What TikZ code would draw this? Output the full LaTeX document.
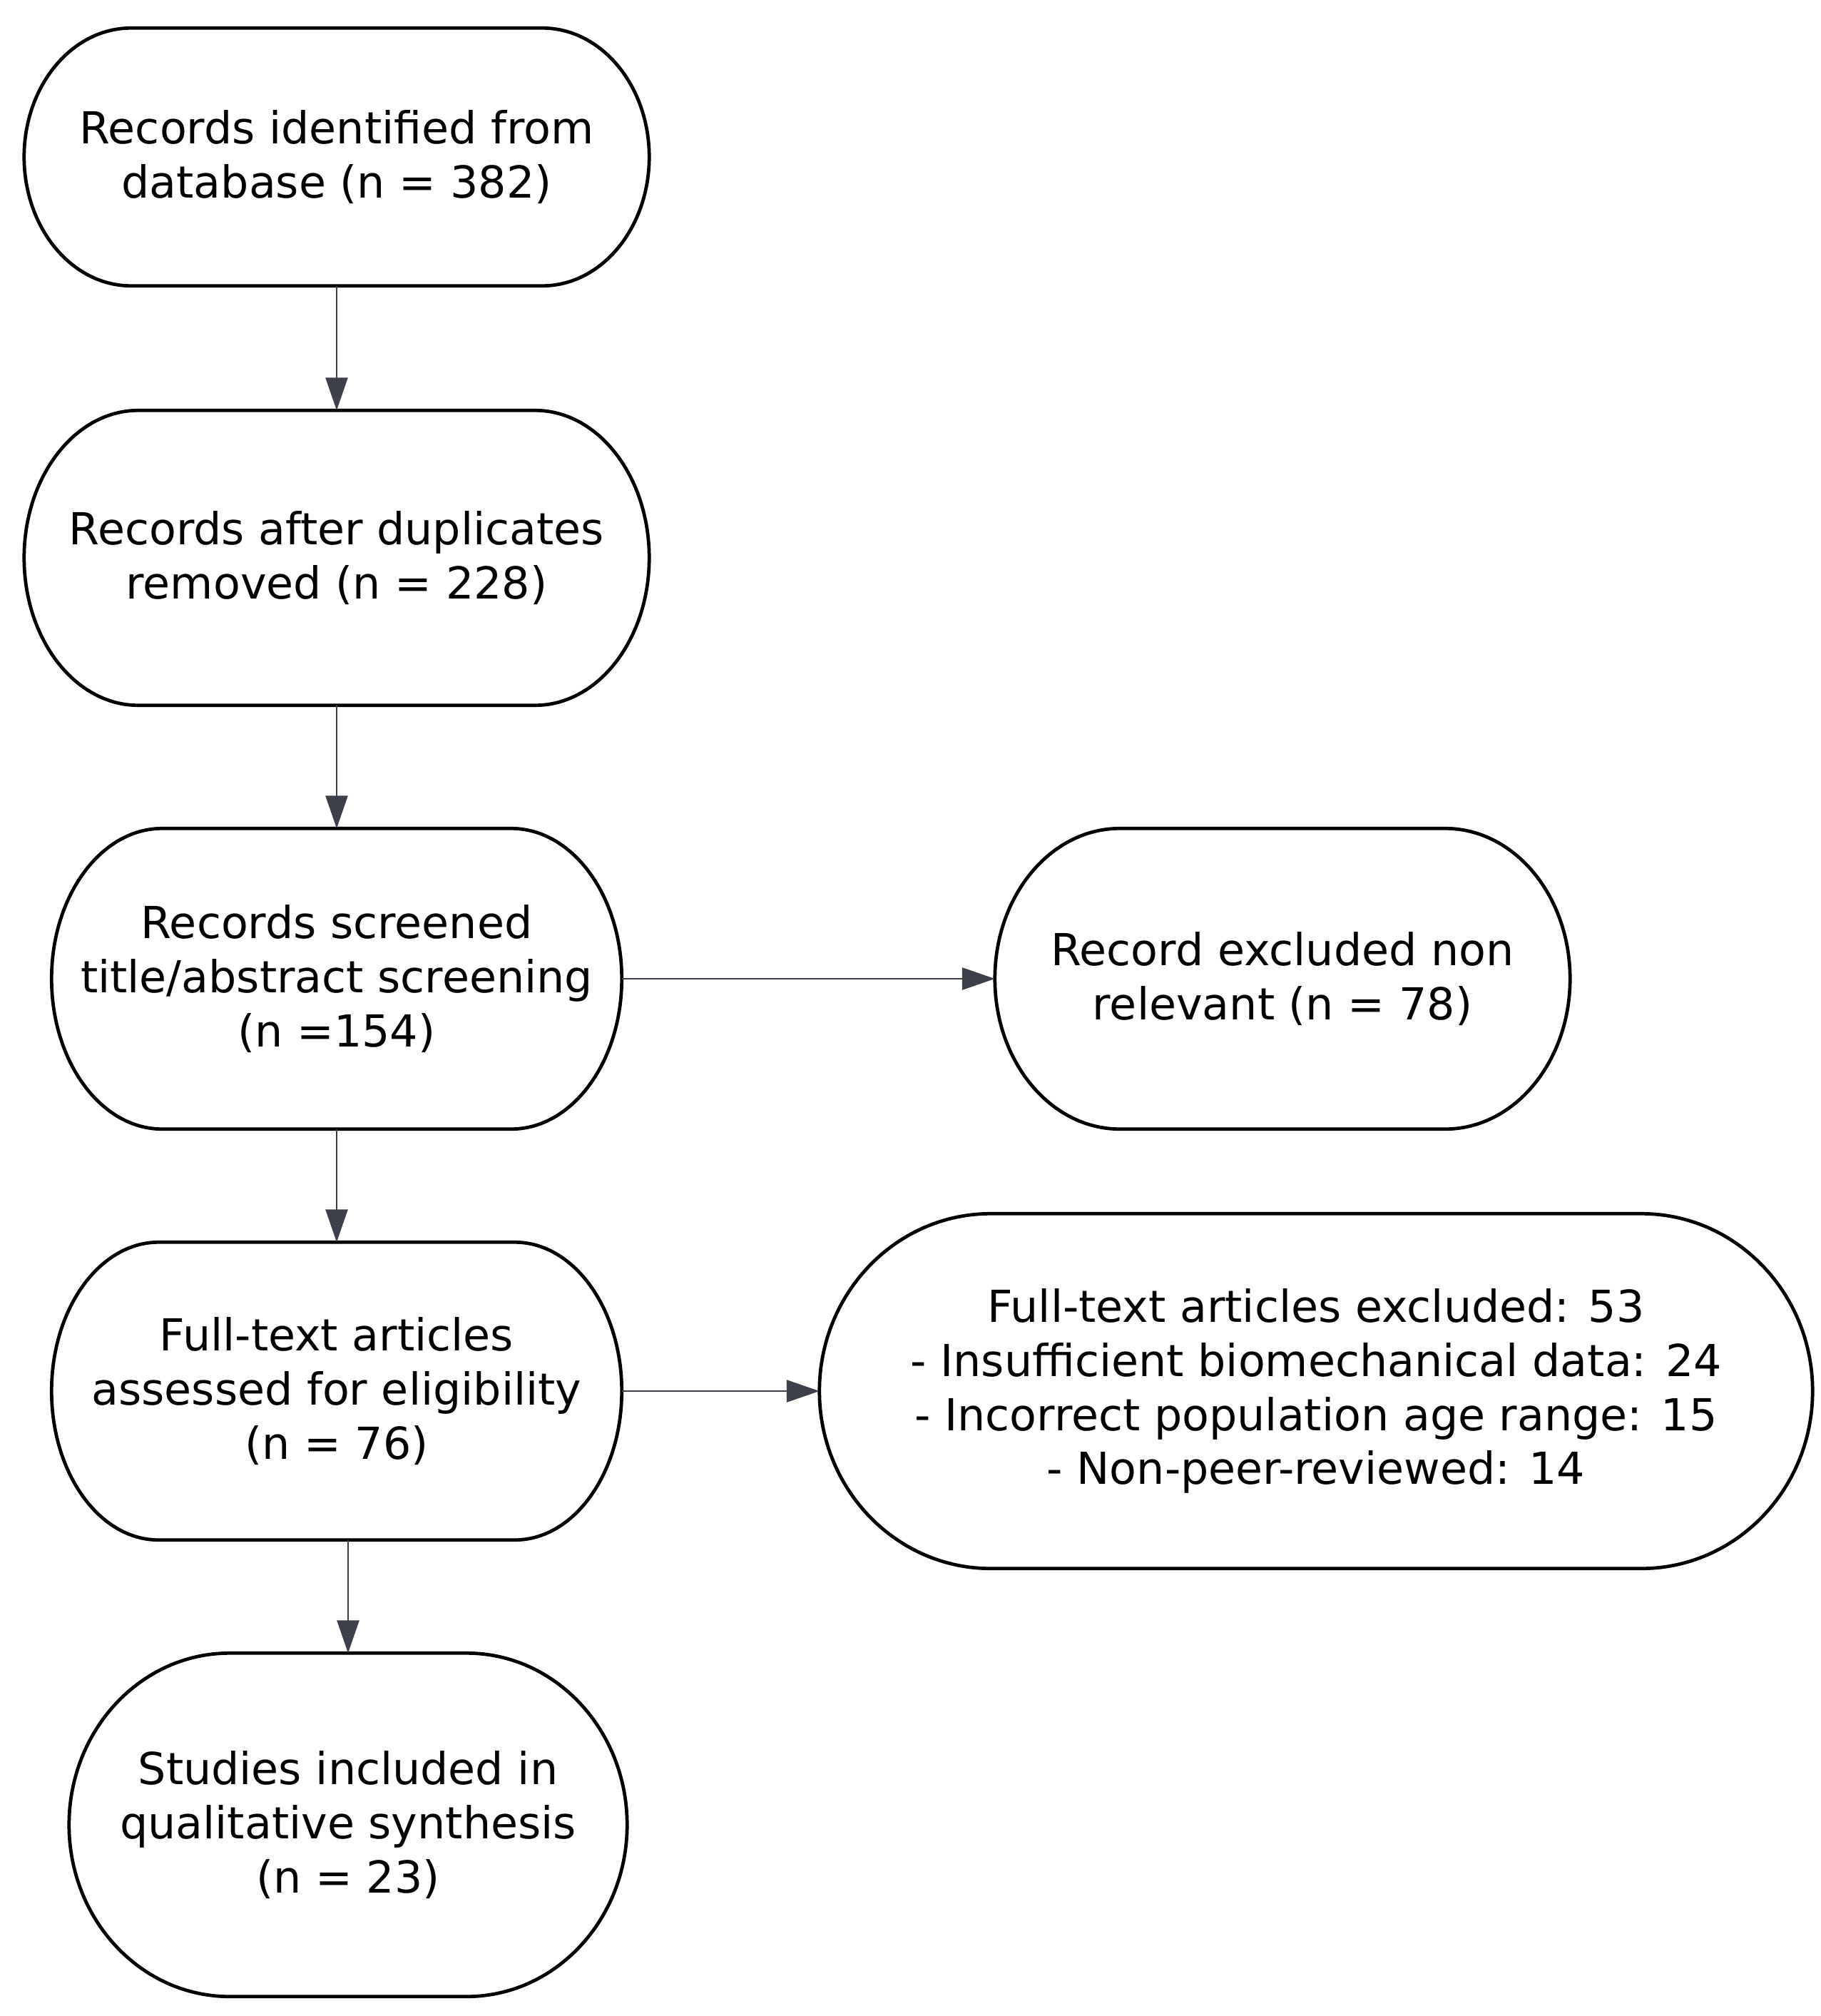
\documentclass[tikz,border=0pt]{standalone}
\usepackage{fontspec}
\setmainfont{DejaVu Sans}
\usetikzlibrary{calc,arrows.meta}
\definecolor{arrowgray}{HTML}{3B404B}

% frame with elliptical ends round a node: #1 node, #2 x radius of the ends (cm)
\newcommand{\pillframe}[2]{%
  \draw[frame] let \p1=(#1.north), \p2=(#1.south), \n1={(\y1-\y2)/2} in
    ($(#1.north west)+(#2,0)$) -- ($(#1.north east)+(-#2,0)$)
    arc[start angle=90,end angle=-90,x radius=#2cm,y radius=\n1]
    -- ($(#1.south west)+(#2,0)$)
    arc[start angle=270,end angle=90,x radius=#2cm,y radius=\n1] -- cycle;
}

\begin{document}
\begin{tikzpicture}[
    box/.style={align=center,inner sep=0pt,font=\fontsize{17.6}{21.6}\selectfont},
    frame/.style={black,line width=1.35pt},
    flow/.style={arrowgray,line width=0.8pt,-{Triangle[length=0.46cm,width=0.31cm]}}]
\useasboundingbox (0,0) rectangle (25.53,-28.26);

\node[box,minimum width=8.75cm,minimum height=3.6cm] (ident) at (4.72,-2.20)
    {Records identified from\\database (n = 382)};
\node[box,minimum width=8.75cm,minimum height=4.12cm] (dupl) at (4.72,-7.82)
    {Records after duplicates\\removed (n = 228)};
\node[box,minimum width=7.98cm,minimum height=4.2cm] (screen) at (4.72,-13.72)
    {Records screened\\title/abstract screening\\(n =154)};
\node[box,minimum width=8.05cm,minimum height=4.2cm] (nonrel) at (17.98,-13.72)
    {Record excluded non\\relevant (n = 78)};
\node[box,minimum width=7.98cm,minimum height=4.16cm] (fulltext) at (4.72,-19.50)
    {Full-text articles\\assessed for eligibility\\(n = 76)};
\node[box,minimum width=13.91cm,minimum height=4.96cm] (ftexcl) at (18.45,-19.50)
    {Full-text articles excluded: 53\\- Insufficient biomechanical data: 24\\- Incorrect population age range: 15\\- Non-peer-reviewed: 14};
\node[box,minimum width=7.81cm,minimum height=4.8cm] (incl) at (4.88,-25.58)
    {Studies included in\\qualitative synthesis\\(n = 23)};

\pillframe{ident}{1.5}
\pillframe{dupl}{1.6}
\pillframe{screen}{1.55}
\pillframe{nonrel}{1.75}
\pillframe{fulltext}{1.5}
\pillframe{ftexcl}{2.4}
\pillframe{incl}{2.25}

\draw[flow] (ident) -- (dupl);
\draw[flow] (dupl) -- (screen);
\draw[flow] (screen) -- (nonrel);
\draw[flow] (screen) -- (fulltext);
\draw[flow] (fulltext) -- (ftexcl);
\draw[flow] (fulltext.south -| incl.north) -- (incl.north);
\end{tikzpicture}
\end{document}
